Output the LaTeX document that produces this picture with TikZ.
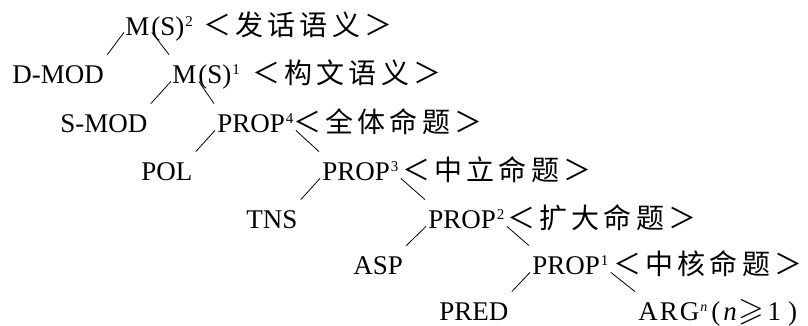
\documentclass[tikz,border=0pt]{standalone}
\usepackage{fontspec}
\usepackage{amssymb}
\setmainfont{Liberation Serif}
\newfontfamily\cjk[LetterSpace=15]{Noto Sans CJK SC}
\newcommand{\upnum}[1]{\kern1pt\raisebox{9pt}{\fontsize{15}{15}\selectfont #1}}

\begin{document}
\begin{tikzpicture}[x=1pt, y=1pt, line width=0.8pt,
    every node/.style={inner sep=0pt, anchor=base west, text height=18pt, text depth=0pt, font=\fontsize{27}{32}\selectfont},
    sem/.style={font=\cjk\fontsize{28}{32}\selectfont}]
    \useasboundingbox (0,0) rectangle (808,325);

% utterance level
    \node (ms2) at (125,290) {M};
    \node (ms2r) at (151,290) {(S)\upnum{2}};
    \node[sem] (sem2) at (203,290) {＜发话语义＞};

% construction level
    \node (dmod) at (12,242) {D-MOD};
    \node (ms1) at (172,242) {M};
    \node (ms1r) at (198,242) {(S)\upnum{1}};
    \node[sem] (sem1) at (252,242) {＜构文语义＞};

% propositions
    \node (smod) at (60,193) {S-MOD};
    \node (prop4) at (217,193) {PROP\upnum{4}};
    \node[sem] (semp4) at (293,193) {＜全体命题＞};

    \node (pol) at (141,145) {POL};
    \node (prop3) at (322,145) {PROP\upnum{3}};
    \node[sem] (semp3) at (402,145) {＜中立命题＞};

    \node (tns) at (246,97) {TNS};
    \node (prop2) at (428,97) {PROP\upnum{2}};
    \node[sem] (semp2) at (507,97) {＜扩大命题＞};

    \node (asp) at (353,51) {ASP};
    \node (prop1) at (532,51) {PROP\upnum{1}};
    \node[sem] (semp1) at (613,51) {＜中核命题＞};

    \node (pred) at (439,5) {PRED};
    \node (arg) at (638,5) {A\kern2pt R\kern2pt G\kern1pt\raisebox{9pt}{\fontsize{14}{14}\selectfont\itshape n}\kern4pt(\kern3pt\textit{n}\kern2pt{\fontsize{33}{33}\selectfont$\geqslant$}\kern3pt 1\kern7pt)};

% branches
    \draw ([shift={(-1pt,3pt)}]ms2.south west) -- ([shift={(3pt,10pt)}]dmod.north east);
    \draw ([shift={(2pt,3pt)}]ms2.south east) -- ([shift={(-3pt,10pt)}]ms1.north west);
    \draw ([shift={(-1pt,2pt)}]ms1.south west) -- ([shift={(3pt,10pt)}]smod.north east);
    \draw ([shift={(2pt,2pt)}]ms1.south east) -- ([shift={(-3pt,10pt)}]prop4.north west);
    \draw ([shift={(-2pt,2pt)}]prop4.south west) -- ([shift={(3pt,10pt)}]pol.north east);
    \draw ([shift={(2pt,2pt)}]prop4.south east) -- ([shift={(-3pt,10pt)}]prop3.north west);
    \draw ([shift={(-2pt,2pt)}]prop3.south west) -- ([shift={(3pt,10pt)}]tns.north east);
    \draw ([shift={(2pt,2pt)}]prop3.south east) -- ([shift={(-3pt,10pt)}]prop2.north west);
    \draw ([shift={(-2pt,2pt)}]prop2.south west) -- ([shift={(3pt,10pt)}]asp.north east);
    \draw ([shift={(2pt,2pt)}]prop2.south east) -- ([shift={(-3pt,10pt)}]prop1.north west);
    \draw ([shift={(-2pt,2pt)}]prop1.south west) -- ([shift={(3pt,10pt)}]pred.north east);
    \draw ([shift={(2pt,2pt)}]prop1.south east) -- ([shift={(-3pt,10pt)}]arg.north west);

\end{tikzpicture}
\end{document}
